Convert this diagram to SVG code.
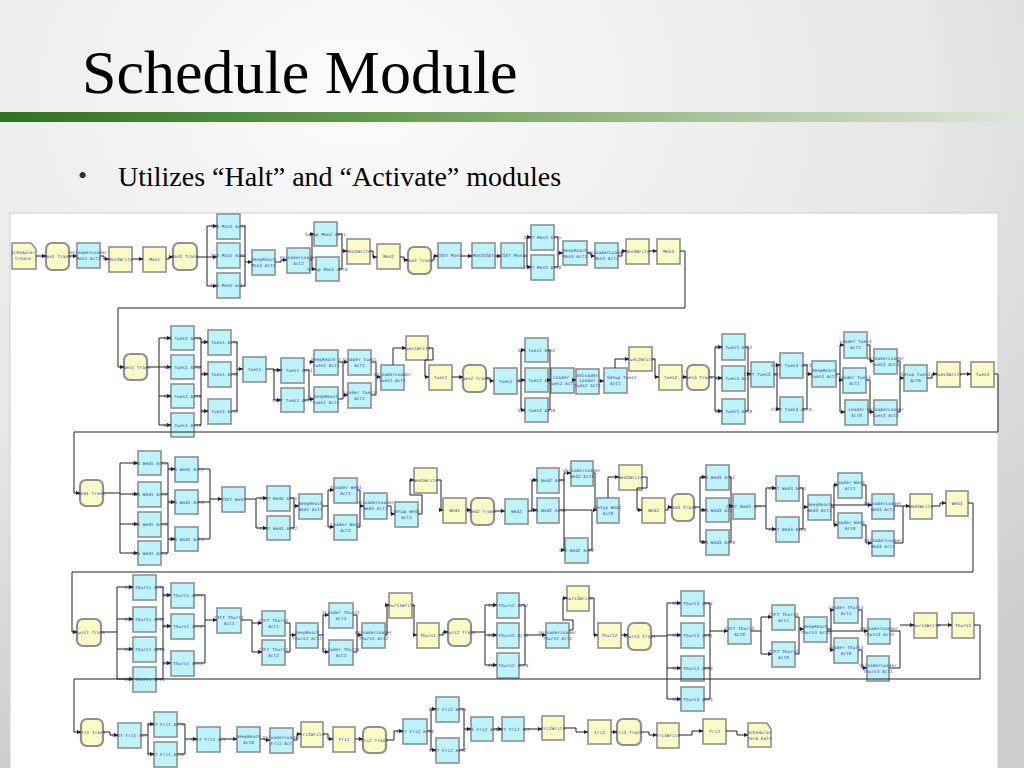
<svg xmlns="http://www.w3.org/2000/svg" width="1024" height="768" viewBox="0 0 1024 768">
<defs>
<radialGradient id="bg" cx="0.35" cy="0.12" r="0.95">
<stop offset="0" stop-color="#fbfbfb"/><stop offset="0.6" stop-color="#e6e6e6"/><stop offset="1" stop-color="#cdcdcd"/>
</radialGradient>
<linearGradient id="gb" x1="0" y1="0" x2="1" y2="0">
<stop offset="0" stop-color="#2c7420"/><stop offset="0.35" stop-color="#5f9a48"/><stop offset="0.7" stop-color="#a9c59a"/><stop offset="1" stop-color="#dfe6da"/>
</linearGradient>
<marker id="ar" markerUnits="userSpaceOnUse" markerWidth="4" markerHeight="4" refX="4" refY="2" orient="auto">
<path d="M0,0 L4,2 L0,4 z" fill="#222"/>
</marker>
</defs>
<style>
.c{fill:#bdf3fa;stroke:#8f8f8f;stroke-width:1.6}
.y{fill:#fbfbc6;stroke:#8f8f8f;stroke-width:1.6}
.t{fill:#fbfbc6;stroke:#909090;stroke-width:2.2}
text.l{font-family:"DejaVu Sans Mono",monospace;font-size:4.3px;fill:#3c3ca8;text-anchor:middle;letter-spacing:0.1px}
#connectors path{fill:none;stroke:#222;stroke-width:1}
#connectors path.a{marker-end:url(#ar)}
</style>
<rect width="1024" height="768" fill="url(#bg)"/>
<text x="82" y="93" font-family="Liberation Serif, serif" font-size="62" fill="#000">Schedule Module</text>
<rect x="0" y="112" width="1024" height="10" fill="url(#gb)"/>
<text x="78" y="184" font-family="Liberation Serif, serif" font-size="26" fill="#1e3a1e">•</text>
<text x="118" y="186" font-family="Liberation Serif, serif" font-size="28" fill="#000">Utilizes “Halt” and “Activate” modules</text>
<rect x="10" y="213" width="988" height="560" fill="#ffffff" stroke="#d0d0d0" stroke-width="1"/>

<g id="nodes">
<!-- Row 1 -->
<g id="sc"><polygon class="y" points="12,243 31,243 36,249 36,269 12,269"/><text class="l" x="23" y="254">Scheduler<tspan x="23" dy="6">Create</tspan></text></g>
<g id="mon1tr"><rect class="t" x="46" y="243" width="23" height="27" rx="6"/><text class="l" x="57.5" y="258">Mon1 Trans</text></g>
<g id="m1ul"><rect class="c" x="77" y="243" width="23" height="25"/><text class="l" x="88.5" y="254">UnloaderLoader<tspan x="88.5" dy="6">Mon1 Act1</tspan></text></g>
<g id="m1w"><rect class="y" x="109" y="247" width="23" height="25"/><text class="l" x="120.5" y="261">Mon1Write</text></g>
<g id="m1y"><rect class="y" x="143" y="247" width="23" height="25"/><text class="l" x="154.5" y="261">Mon1</text></g>
<g id="m2tr"><rect class="t" x="173" y="243" width="24" height="27" rx="6"/><text class="l" x="185" y="258">Mon2 Trans</text></g>
<g id="m2a"><rect class="c" x="217" y="214" width="23" height="25"/><text class="l" x="228.5" y="228">SSS Mon2 Act2</text></g>
<g id="m2b"><rect class="c" x="217" y="243" width="23" height="25"/><text class="l" x="228.5" y="257">SSS Mon2 Act2</text></g>
<g id="m2c"><rect class="c" x="217" y="273" width="23" height="25"/><text class="l" x="228.5" y="287">SSS Mon2 Act1</text></g>
<g id="m2dr"><rect class="c" x="252" y="250" width="23" height="25"/><text class="l" x="263.5" y="261">DeepReach<tspan x="263.5" dy="6">Mon2 Act1</tspan></text></g>
<g id="m2ul"><rect class="c" x="287" y="248" width="23" height="25"/><text class="l" x="298.5" y="259">UnloaderLoader<tspan x="298.5" dy="6">Act2</tspan></text></g>
<g id="m2s1"><rect class="c" x="314" y="222" width="23" height="24"/><text class="l" x="325.5" y="236">Setup Mon2 Act1</text></g>
<g id="m2s2"><rect class="c" x="316" y="257" width="23" height="24"/><text class="l" x="327.5" y="271">Setup Mon2 Act0</text></g>
<g id="m2w"><rect class="y" x="347" y="239" width="23" height="25"/><text class="l" x="358.5" y="253">Mon2Write</text></g>
<g id="m2y"><rect class="y" x="377" y="244" width="23" height="25"/><text class="l" x="388.5" y="258">Mon2</text></g>
<g id="m3tr"><rect class="t" x="408" y="247" width="23" height="27" rx="6"/><text class="l" x="419.5" y="262">Mon3 Trans</text></g>
<g id="m3a"><rect class="c" x="438" y="243" width="23" height="25"/><text class="l" x="449.5" y="257">CSET Mon3</text></g>
<g id="m3c"><rect class="c" x="472" y="243" width="23" height="25"/><text class="l" x="483.5" y="257">Mon3CSET</text></g>
<g id="m3d"><rect class="c" x="501" y="243" width="23" height="25"/><text class="l" x="512.5" y="257">CSET Mon3</text></g>
<g id="m3e"><rect class="c" x="531" y="225" width="23" height="25"/><text class="l" x="542.5" y="239">CSET Mon3 Act1</text></g>
<g id="m3f"><rect class="c" x="531" y="255" width="23" height="25"/><text class="l" x="542.5" y="269">CSET Mon3 Act0</text></g>
<g id="m3dr"><rect class="c" x="563" y="241" width="24" height="24"/><text class="l" x="575" y="252">DeepReach<tspan x="575" dy="6">Mon3 Act1</tspan></text></g>
<g id="m3ul"><rect class="c" x="595" y="243" width="23" height="25"/><text class="l" x="606.5" y="254">UnloaderLoader<tspan x="606.5" dy="6">Mon3 Act1</tspan></text></g>
<g id="m3w"><rect class="y" x="626" y="239" width="23" height="25"/><text class="l" x="637.5" y="253">Mon3Write</text></g>
<g id="m3y"><rect class="y" x="657" y="239" width="23" height="25"/><text class="l" x="668.5" y="253">Mon3</text></g>

<!-- Row 2 -->
<g id="t1tr"><rect class="t" x="124" y="354" width="23" height="26" rx="6"/><text class="l" x="135.5" y="369">Tues1 Trans</text></g>
<g id="t1a1"><rect class="c" x="171" y="326" width="23" height="24"/><text class="l" x="182.5" y="340">SSS Tues1 Act1</text></g>
<g id="t1a2"><rect class="c" x="171" y="355" width="23" height="24"/><text class="l" x="182.5" y="369">SSS Tues1 Act2</text></g>
<g id="t1a3"><rect class="c" x="171" y="384" width="23" height="24"/><text class="l" x="182.5" y="398">SSS Tues1 Act3</text></g>
<g id="t1a4"><rect class="c" x="171" y="413" width="23" height="24"/><text class="l" x="182.5" y="427">SSS Tues1 Act4</text></g>
<g id="t1b1"><rect class="c" x="208" y="330" width="23" height="25"/><text class="l" x="219.5" y="344">SSS Tues1 Act1</text></g>
<g id="t1b2"><rect class="c" x="208" y="362" width="23" height="25"/><text class="l" x="219.5" y="376">SSS Tues1 Act2</text></g>
<g id="t1b3"><rect class="c" x="208" y="399" width="23" height="25"/><text class="l" x="219.5" y="413">SSS Tues1 Act3</text></g>
<g id="t1c"><rect class="c" x="243" y="357" width="23" height="25"/><text class="l" x="254.5" y="371">Tues1</text></g>
<g id="t1d"><rect class="c" x="281" y="358" width="23" height="25"/><text class="l" x="292.5" y="372">CSET Tues1 Act1</text></g>
<g id="t1e"><rect class="c" x="281" y="388" width="23" height="24"/><text class="l" x="292.5" y="402">CSET Tues1 Act2</text></g>
<g id="t1dr1"><rect class="c" x="314" y="350" width="24" height="25"/><text class="l" x="326" y="361">DeepReach 2<tspan x="326" dy="6">Tues1 Act1</tspan></text></g>
<g id="t1dr2"><rect class="c" x="314" y="387" width="24" height="25"/><text class="l" x="326" y="398">DeepReach<tspan x="326" dy="6">Tues1 Act1</tspan></text></g>
<g id="t1l1"><rect class="c" x="348" y="350" width="23" height="25"/><text class="l" x="359.5" y="361">2Loader Tues1<tspan x="359.5" dy="6">Act1</tspan></text></g>
<g id="t1l2"><rect class="c" x="348" y="383" width="23" height="25"/><text class="l" x="359.5" y="394">Loader Tues1<tspan x="359.5" dy="6">Act2</tspan></text></g>
<g id="t1ul"><rect class="c" x="381" y="365" width="23" height="25"/><text class="l" x="392.5" y="376">UnloaderLoader<tspan x="392.5" dy="6">Tues1 Act1</tspan></text></g>
<g id="t1w"><rect class="y" x="406" y="336" width="22" height="24"/><text class="l" x="417" y="350">Tues1Write</text></g>
<g id="t1y"><rect class="y" x="429" y="365" width="23" height="25"/><text class="l" x="440.5" y="379">Tues1</text></g>
<g id="t2tr"><rect class="t" x="463" y="365" width="23" height="27" rx="6"/><text class="l" x="474.5" y="380">Tues2 Trans</text></g>
<g id="t2c"><rect class="c" x="494" y="368" width="23" height="26"/><text class="l" x="505.5" y="383">Tues2</text></g>
<g id="t2a"><rect class="c" x="525" y="338" width="23" height="24"/><text class="l" x="536.5" y="352">SSS Tues2 Act2</text></g>
<g id="t2b"><rect class="c" x="525" y="368" width="23" height="24"/><text class="l" x="536.5" y="382">SSS Tues2 Act1</text></g>
<g id="t2d"><rect class="c" x="525" y="398" width="23" height="24"/><text class="l" x="536.5" y="412">SSS Tues2 Act0</text></g>
<g id="t2l"><rect class="c" x="551" y="368" width="23" height="25"/><text class="l" x="561" y="379">Loader<tspan x="561" dy="6">Tues2 Act</tspan></text></g>
<g id="t2ul"><rect class="c" x="576" y="369" width="23" height="25"/><text class="l" x="587.5" y="377">Unloader<tspan x="587.5" dy="5">Loader</tspan><tspan x="587.5" dy="5">Tues2 Act1</tspan></text></g>
<g id="t2s"><rect class="c" x="604" y="368" width="23" height="25"/><text class="l" x="607" y="379" style="text-anchor:start">Setup Tues2<tspan x="610" dy="6">Act1</tspan></text></g>
<g id="t2w"><rect class="y" x="629" y="347" width="23" height="24"/><text class="l" x="640.5" y="361">Tues2Write</text></g>
<g id="t2y"><rect class="y" x="659" y="365" width="23" height="25"/><text class="l" x="670.5" y="379">Tues2</text></g>
<g id="t3tr"><rect class="t" x="687" y="365" width="22" height="25" rx="6"/><text class="l" x="698" y="379">Tues3 Trans</text></g>
<g id="t3a"><rect class="c" x="722" y="334" width="23" height="26"/><text class="l" x="733.5" y="349">SSS Tues3 Act2</text></g>
<g id="t3b"><rect class="c" x="722" y="366" width="23" height="25"/><text class="l" x="733.5" y="380">SSS Tues3 Act1</text></g>
<g id="t3d"><rect class="c" x="722" y="399" width="23" height="25"/><text class="l" x="733.5" y="413">SSS Tues3 Act0</text></g>
<g id="t3cs"><rect class="c" x="751" y="362" width="23" height="25"/><text class="l" x="762.5" y="376">CSET Tues3 Act</text></g>
<g id="t3e"><rect class="c" x="780" y="353" width="23" height="25"/><text class="l" x="791.5" y="367">CSET Tues3 Act1</text></g>
<g id="t3f"><rect class="c" x="780" y="397" width="23" height="25"/><text class="l" x="791.5" y="411">CSET Tues3 Act0</text></g>
<g id="t3dr"><rect class="c" x="812" y="361" width="24" height="26"/><text class="l" x="824" y="372">DeepReach<tspan x="824" dy="6">Tues3 Act1</tspan></text></g>
<g id="t3l2"><rect class="c" x="844" y="332" width="23" height="26"/><text class="l" x="855.5" y="343">Loader Tues3<tspan x="855.5" dy="6">Act2</tspan></text></g>
<g id="t3l1"><rect class="c" x="843" y="368" width="23" height="25"/><text class="l" x="854.5" y="379">Loader Tues3<tspan x="854.5" dy="6">Act1</tspan></text></g>
<g id="t3l0"><rect class="c" x="845" y="400" width="23" height="25"/><text class="l" x="856.5" y="411">Loader<tspan x="856.5" dy="6">Act0</tspan></text></g>
<g id="t3u3"><rect class="c" x="874" y="349" width="23" height="25"/><text class="l" x="885.5" y="360">UnloaderLoader<tspan x="885.5" dy="6">Tues3 Act3</tspan></text></g>
<g id="t3u1"><rect class="c" x="874" y="400" width="23" height="25"/><text class="l" x="885.5" y="411">UnloaderLoader<tspan x="885.5" dy="6">Tues3 Act1</tspan></text></g>
<g id="t3s"><rect class="c" x="904" y="365" width="23" height="26"/><text class="l" x="915.5" y="376">Setup Tues3<tspan x="915.5" dy="6">Act0</tspan></text></g>
<g id="t3w"><rect class="y" x="937" y="362" width="23" height="25"/><text class="l" x="948.5" y="376">Tues3Write</text></g>
<g id="t3y"><rect class="y" x="971" y="362" width="23" height="25"/><text class="l" x="982.5" y="376">Tues3</text></g>

<!-- Row 3 -->
<g id="w1tr"><rect class="t" x="80" y="480" width="23" height="26" rx="6"/><text class="l" x="91.5" y="495">Wed1 Trans</text></g>
<g id="w1a1"><rect class="c" x="138" y="451" width="23" height="24"/><text class="l" x="149.5" y="465">SSS Wed1 Act1</text></g>
<g id="w1a2"><rect class="c" x="138" y="482" width="23" height="25"/><text class="l" x="149.5" y="496">SSS Wed1 Act2</text></g>
<g id="w1a3"><rect class="c" x="138" y="512" width="23" height="25"/><text class="l" x="149.5" y="526">SSS Wed1 Act3</text></g>
<g id="w1a4"><rect class="c" x="138" y="541" width="23" height="24"/><text class="l" x="149.5" y="555">SSS Wed1 Act4</text></g>
<g id="w1b1"><rect class="c" x="175" y="457" width="23" height="25"/><text class="l" x="186.5" y="471">SSS Wed1 Act1</text></g>
<g id="w1b2"><rect class="c" x="175" y="490" width="23" height="24"/><text class="l" x="186.5" y="504">SSS Wed1 Act2</text></g>
<g id="w1b3"><rect class="c" x="175" y="527" width="23" height="24"/><text class="l" x="186.5" y="541">SSS Wed1 Act3</text></g>
<g id="w1c"><rect class="c" x="222" y="487" width="23" height="25"/><text class="l" x="233.5" y="501">CSET Wed1</text></g>
<g id="w1d"><rect class="c" x="267" y="486" width="23" height="25"/><text class="l" x="278.5" y="500">CSET Wed1 Act1</text></g>
<g id="w1e"><rect class="c" x="267" y="516" width="23" height="24"/><text class="l" x="278.5" y="530">CSET Wed1 Act2</text></g>
<g id="w1dr"><rect class="c" x="299" y="494" width="23" height="25"/><text class="l" x="310.5" y="505">DeepReach<tspan x="310.5" dy="6">Wed1 Act1</tspan></text></g>
<g id="w1l1"><rect class="c" x="334" y="478" width="23" height="25"/><text class="l" x="345.5" y="489">2Loader Wed1<tspan x="345.5" dy="6">Act1</tspan></text></g>
<g id="w1l2"><rect class="c" x="334" y="515" width="23" height="25"/><text class="l" x="345.5" y="526">Loader Wed1<tspan x="345.5" dy="6">Act2</tspan></text></g>
<g id="w1ul"><rect class="c" x="364" y="493" width="23" height="26"/><text class="l" x="375.5" y="504">UnloaderLoader<tspan x="375.5" dy="6">Wed1 Act1</tspan></text></g>
<g id="w1s"><rect class="c" x="395" y="502" width="23" height="25"/><text class="l" x="406.5" y="513">Setup Wed1<tspan x="406.5" dy="6">Act1</tspan></text></g>
<g id="w1w"><rect class="y" x="414" y="468" width="23" height="25"/><text class="l" x="425.5" y="482">Wed1Write</text></g>
<g id="w1y"><rect class="y" x="443" y="498" width="23" height="25"/><text class="l" x="454.5" y="512">Wed1</text></g>
<g id="w2tr"><rect class="t" x="471" y="498" width="23" height="27" rx="6"/><text class="l" x="482.5" y="513">Wed2 Trans</text></g>
<g id="w2c"><rect class="c" x="505" y="499" width="23" height="25"/><text class="l" x="516.5" y="513">Wed2</text></g>
<g id="w2a"><rect class="c" x="537" y="468" width="22" height="25"/><text class="l" x="548" y="482">SSS Wed2 Act1</text></g>
<g id="w2b"><rect class="c" x="537" y="498" width="22" height="25"/><text class="l" x="548" y="512">SSS Wed2 Act0</text></g>
<g id="w2ul"><rect class="c" x="571" y="461" width="22" height="25"/><text class="l" x="582" y="472">UnloaderLoader<tspan x="582" dy="6">Wed2 Act0</tspan></text></g>
<g id="w2x"><rect class="c" x="565" y="538" width="23" height="25"/><text class="l" x="576.5" y="552">SSS Wed2 Act0</text></g>
<g id="w2s"><rect class="c" x="597" y="498" width="22" height="25"/><text class="l" x="608" y="509">Setup Wed2<tspan x="608" dy="6">Act0</tspan></text></g>
<g id="w2w"><rect class="y" x="619" y="465" width="23" height="25"/><text class="l" x="630.5" y="479">Wed2Write</text></g>
<g id="w2y"><rect class="y" x="642" y="498" width="23" height="25"/><text class="l" x="653.5" y="512">Wed2</text></g>
<g id="w3tr"><rect class="t" x="672" y="494" width="22" height="27" rx="6"/><text class="l" x="683" y="509">Wed3 Trans</text></g>
<g id="w3a"><rect class="c" x="706" y="465" width="23" height="25"/><text class="l" x="717.5" y="479">SSS Wed3 Act2</text></g>
<g id="w3b"><rect class="c" x="706" y="498" width="23" height="24"/><text class="l" x="717.5" y="512">SSS Wed3 Act1</text></g>
<g id="w3d"><rect class="c" x="706" y="530" width="23" height="25"/><text class="l" x="717.5" y="544">SSS Wed3 Act0</text></g>
<g id="w3cs"><rect class="c" x="733" y="494" width="22" height="25"/><text class="l" x="744" y="508">CSET Wed3 Act</text></g>
<g id="w3e"><rect class="c" x="776" y="476" width="23" height="25"/><text class="l" x="787.5" y="490">CSET Wed3 Act1</text></g>
<g id="w3f"><rect class="c" x="776" y="517" width="23" height="25"/><text class="l" x="787.5" y="531">CSET Wed3 Act0</text></g>
<g id="w3dr"><rect class="c" x="808" y="495" width="23" height="25"/><text class="l" x="819.5" y="506">DeepReach<tspan x="819.5" dy="6">Wed3 Act1</tspan></text></g>
<g id="w3l1"><rect class="c" x="838" y="473" width="24" height="25"/><text class="l" x="850" y="484">Loader Wed3<tspan x="850" dy="6">Act1</tspan></text></g>
<g id="w3l0"><rect class="c" x="838" y="513" width="24" height="25"/><text class="l" x="850" y="524">Loader Wed3<tspan x="850" dy="6">Act0</tspan></text></g>
<g id="w3u2"><rect class="c" x="872" y="494" width="22" height="25"/><text class="l" x="883" y="505">UnloaderLoader<tspan x="883" dy="6">Wed3 Act2</tspan></text></g>
<g id="w3u1"><rect class="c" x="872" y="531" width="22" height="25"/><text class="l" x="883" y="542">UnloaderLoader<tspan x="883" dy="6">Wed3 Act1</tspan></text></g>
<g id="w3w"><rect class="y" x="910" y="494" width="22" height="25"/><text class="l" x="921" y="508">Wed3Write</text></g>
<g id="w3y"><rect class="y" x="946" y="491" width="22" height="25"/><text class="l" x="957" y="505">Wed3</text></g>

<!-- Row 4 -->
<g id="h1tr"><rect class="t" x="77" y="619" width="24" height="27" rx="6"/><text class="l" x="89" y="634">Thurs1 Trans</text></g>
<g id="h1a1"><rect class="c" x="133" y="575" width="23" height="25"/><text class="l" x="144.5" y="589">SSS Thurs1 Act1</text></g>
<g id="h1a2"><rect class="c" x="133" y="607" width="23" height="25"/><text class="l" x="144.5" y="621">SSS Thurs1 Act2</text></g>
<g id="h1a3"><rect class="c" x="133" y="637" width="23" height="25"/><text class="l" x="144.5" y="651">SSS Thurs1 Act3</text></g>
<g id="h1a4"><rect class="c" x="133" y="667" width="23" height="25"/><text class="l" x="144.5" y="681">SSS Thurs1 Act4</text></g>
<g id="h1b1"><rect class="c" x="171" y="583" width="23" height="25"/><text class="l" x="182.5" y="597">SSS Thurs1 Act1</text></g>
<g id="h1b2"><rect class="c" x="171" y="614" width="23" height="25"/><text class="l" x="182.5" y="628">SSS Thurs1 Act2</text></g>
<g id="h1b3"><rect class="c" x="171" y="651" width="23" height="25"/><text class="l" x="182.5" y="665">SSS Thurs1 Act3</text></g>
<g id="h1c"><rect class="c" x="217" y="608" width="24" height="25"/><text class="l" x="229" y="619">CIFT Thurs1<tspan x="229" dy="6">Act1</tspan></text></g>
<g id="h1d"><rect class="c" x="262" y="611" width="23" height="25"/><text class="l" x="273.5" y="622">CIFT Thurs1<tspan x="273.5" dy="6">Act1</tspan></text></g>
<g id="h1e"><rect class="c" x="262" y="640" width="23" height="25"/><text class="l" x="273.5" y="651">CIFT Thurs1<tspan x="273.5" dy="6">Act2</tspan></text></g>
<g id="h1dr"><rect class="c" x="296" y="623" width="22" height="25"/><text class="l" x="307" y="634">DeepReach<tspan x="307" dy="6">Thurs1 Act2</tspan></text></g>
<g id="h1l1"><rect class="c" x="329" y="603" width="24" height="25"/><text class="l" x="341" y="614">2Loader Thurs1<tspan x="341" dy="6">Act1</tspan></text></g>
<g id="h1l2"><rect class="c" x="329" y="640" width="24" height="25"/><text class="l" x="341" y="651">2Loader Thurs1<tspan x="341" dy="6">Act2</tspan></text></g>
<g id="h1ul"><rect class="c" x="362" y="623" width="23" height="25"/><text class="l" x="373.5" y="634">UnloaderLoader<tspan x="373.5" dy="6">Thurs1 Act2</tspan></text></g>
<g id="h1w"><rect class="y" x="389" y="593" width="23" height="25"/><text class="l" x="400.5" y="607">Thurs1Write</text></g>
<g id="h1y"><rect class="y" x="417" y="623" width="22" height="25"/><text class="l" x="428" y="637">Thurs1</text></g>
<g id="h2tr"><rect class="t" x="448" y="619" width="23" height="27" rx="6"/><text class="l" x="459.5" y="634">Thurs2 Trans</text></g>
<g id="h2a1"><rect class="c" x="497" y="593" width="22" height="25"/><text class="l" x="508" y="607">SSS Thurs2 Act2</text></g>
<g id="h2a2"><rect class="c" x="497" y="623" width="22" height="25"/><text class="l" x="508" y="637">SSS Thurs2 Act1</text></g>
<g id="h2a3"><rect class="c" x="497" y="653" width="22" height="25"/><text class="l" x="508" y="667">SSS Thurs2 Act0</text></g>
<g id="h2ul"><rect class="c" x="546" y="623" width="23" height="25"/><text class="l" x="557.5" y="634">UnloaderLoader<tspan x="557.5" dy="6">Thurs2 Act1</tspan></text></g>
<g id="h2w"><rect class="y" x="567" y="586" width="22" height="25"/><text class="l" x="578" y="600">Thurs2Write</text></g>
<g id="h2y"><rect class="y" x="598" y="623" width="23" height="25"/><text class="l" x="609.5" y="637">Thurs2</text></g>
<g id="h3tr"><rect class="t" x="628" y="623" width="23" height="27" rx="6"/><text class="l" x="639.5" y="638">Thurs3 Trans</text></g>
<g id="h3a1"><rect class="c" x="681" y="591" width="23" height="25"/><text class="l" x="692.5" y="605">SSS Thurs3 Act2</text></g>
<g id="h3a2"><rect class="c" x="681" y="623" width="23" height="25"/><text class="l" x="692.5" y="637">SSS Thurs3 Act1</text></g>
<g id="h3a3"><rect class="c" x="681" y="656" width="23" height="25"/><text class="l" x="692.5" y="670">SSS Thurs3 Act0</text></g>
<g id="h3a4"><rect class="c" x="681" y="687" width="23" height="24"/><text class="l" x="692.5" y="701">SSS Thurs3 Act3</text></g>
<g id="h3c"><rect class="c" x="728" y="619" width="23" height="25"/><text class="l" x="739.5" y="630">CIFT Thurs3<tspan x="739.5" dy="6">Act0</tspan></text></g>
<g id="h3d"><rect class="c" x="772" y="605" width="23" height="25"/><text class="l" x="783.5" y="616">CIFT Thurs3<tspan x="783.5" dy="6">Act1</tspan></text></g>
<g id="h3e"><rect class="c" x="772" y="642" width="23" height="25"/><text class="l" x="783.5" y="653">CIFT Thurs3<tspan x="783.5" dy="6">Act0</tspan></text></g>
<g id="h3dr"><rect class="c" x="804" y="617" width="23" height="25"/><text class="l" x="815.5" y="628">DeepReach<tspan x="815.5" dy="6">Thurs3 Act1</tspan></text></g>
<g id="h3l1"><rect class="c" x="834" y="598" width="24" height="25"/><text class="l" x="846" y="609">Loader Thurs3<tspan x="846" dy="6">Act1</tspan></text></g>
<g id="h3l0"><rect class="c" x="834" y="638" width="24" height="25"/><text class="l" x="846" y="649">Loader Thurs3<tspan x="846" dy="6">Act0</tspan></text></g>
<g id="h3u2"><rect class="c" x="868" y="619" width="22" height="25"/><text class="l" x="879" y="630">UnloaderLoader<tspan x="879" dy="6">Thurs3 Act2</tspan></text></g>
<g id="h3u1"><rect class="c" x="867" y="656" width="22" height="25"/><text class="l" x="878" y="667">UnloaderLoader<tspan x="878" dy="6">Thurs3 Act1</tspan></text></g>
<g id="h3w"><rect class="y" x="914" y="613" width="23" height="25"/><text class="l" x="925.5" y="627">Thurs3Write</text></g>
<g id="h3y"><rect class="y" x="952" y="613" width="22" height="25"/><text class="l" x="963" y="627">Thurs3</text></g>

<!-- Row 5 -->
<g id="f1tr"><rect class="t" x="81" y="719" width="22" height="27" rx="6"/><text class="l" x="92" y="734">Fri1 Trans</text></g>
<g id="f1a"><rect class="c" x="118" y="723" width="23" height="25"/><text class="l" x="129.5" y="737">CSET Fri1 Act</text></g>
<g id="f1b"><rect class="c" x="154" y="712" width="23" height="25"/><text class="l" x="165.5" y="726">CSET Fri1 Act1</text></g>
<g id="f1c"><rect class="c" x="154" y="742" width="23" height="25"/><text class="l" x="165.5" y="756">CSET Fri1 Act2</text></g>
<g id="f1d"><rect class="c" x="197" y="727" width="23" height="25"/><text class="l" x="208.5" y="741">CSET Fri1 Act</text></g>
<g id="f1dr"><rect class="c" x="237" y="727" width="23" height="25"/><text class="l" x="248.5" y="738">DeepReach<tspan x="248.5" dy="6">Act0</tspan></text></g>
<g id="f1ul"><rect class="c" x="270" y="728" width="23" height="25"/><text class="l" x="281.5" y="739">UnloaderLoader<tspan x="281.5" dy="6">Fri1 Act</tspan></text></g>
<g id="f1w"><rect class="y" x="301" y="722" width="22" height="25"/><text class="l" x="312" y="736">Fri1Write</text></g>
<g id="f1y"><rect class="y" x="333" y="727" width="22" height="25"/><text class="l" x="344" y="741">Fri1</text></g>
<g id="f2tr"><rect class="t" x="363" y="727" width="23" height="26" rx="6"/><text class="l" x="374.5" y="742">Fri2 Trans</text></g>
<g id="f2a"><rect class="c" x="403" y="719" width="24" height="25"/><text class="l" x="415" y="733">CSET Fri2 Act0</text></g>
<g id="f2b"><rect class="c" x="436" y="697" width="23" height="25"/><text class="l" x="447.5" y="711">CSET Fri2 Act1</text></g>
<g id="f2c"><rect class="c" x="436" y="738" width="23" height="25"/><text class="l" x="447.5" y="752">CSET Fri2 Act2</text></g>
<g id="f2d"><rect class="c" x="471" y="717" width="22" height="24"/><text class="l" x="482" y="731">SSS Fri2 Act</text></g>
<g id="f2e"><rect class="c" x="502" y="717" width="22" height="24"/><text class="l" x="513" y="731">CSET Fri2 Act</text></g>
<g id="f2w"><rect class="y" x="542" y="716" width="22" height="24"/><text class="l" x="553" y="730">Fri2Write</text></g>
<g id="f2y"><rect class="y" x="588" y="720" width="23" height="24"/><text class="l" x="599.5" y="734">Fri2</text></g>
<g id="f3tr"><rect class="t" x="617" y="719" width="24" height="26" rx="6"/><text class="l" x="629" y="734">Fri3 Trans</text></g>
<g id="f3w"><rect class="y" x="657" y="723" width="22" height="25"/><text class="l" x="668" y="737">Fri3Write</text></g>
<g id="f3y"><rect class="y" x="703" y="719" width="23" height="25"/><text class="l" x="714.5" y="733">Fri3</text></g>
<g id="term"><polygon class="y" points="748,723 767,723 771,729 771,747 748,747"/><text class="l" x="759.5" y="734">Scheduler<tspan x="759.5" dy="6">Term Halt</tspan></text></g>
</g>

<g id="connectors">
<path class="a" d="M36 256H46"/>
<path class="a" d="M69 256H77"/>
<path class="a" d="M100 256H104V259H109"/>
<path class="a" d="M132 259H143"/>
<path class="a" d="M166 259H169V257H173"/>
<path class="a" d="M197 257H207V226H217"/>
<path class="a" d="M207 257H217"/>
<path class="a" d="M207 257V286H217"/>
<path d="M240 226H245V286H240"/>
<path d="M240 256H245"/>
<path class="a" d="M245 262H252"/>
<path class="a" d="M275 262H281V260H287"/>
<path class="a" d="M310 260H312V234H314"/>
<path class="a" d="M312 260V269H316"/>
<path d="M337 234H342V269H339"/>
<path class="a" d="M342 251H347"/>
<path class="a" d="M370 251H373V257H377"/>
<path class="a" d="M400 257H404V260H408"/>
<path class="a" d="M431 260H434V256H438"/>
<path class="a" d="M461 256H472"/>
<path class="a" d="M495 256H501"/>
<path class="a" d="M524 256H527V237H531"/>
<path class="a" d="M527 256V267H531"/>
<path d="M554 237H558V267H554"/>
<path class="a" d="M558 253H563"/>
<path class="a" d="M587 253H591V256H595"/>
<path class="a" d="M618 256H622V251H626"/>
<path class="a" d="M649 251H657"/>
<path class="a" d="M680 251H685V308H118V367H124"/>

<path class="a" d="M147 367H159V338H171"/>
<path class="a" d="M159 367H171"/>
<path class="a" d="M159 367V425H171"/>
<path class="a" d="M159 396H171"/>
<path d="M194 338H201V425H194"/>
<path d="M194 367H201"/>
<path d="M194 396H201"/>
<path class="a" d="M201 342H208"/>
<path class="a" d="M201 374H208"/>
<path class="a" d="M201 411H208"/>
<path d="M231 342H237V411H231"/>
<path d="M231 374H237"/>
<path class="a" d="M237 369H243"/>
<path class="a" d="M266 369H274V400H281"/>
<path class="a" d="M274 370H281"/>
<path d="M304 370H309V400H304"/>
<path class="a" d="M309 362H314"/>
<path class="a" d="M309 399H314"/>
<path d="M338 362H343V399H338"/>
<path class="a" d="M343 362H348"/>
<path class="a" d="M343 395H348"/>
<path d="M371 362H376V395H371"/>
<path class="a" d="M376 377H381"/>
<path class="a" d="M393 365V348H406"/>
<path class="a" d="M428 348H433V360H425V377H429"/>
<path class="a" d="M452 377H463"/>
<path class="a" d="M486 378H490V381H494"/>
<path class="a" d="M517 381H521V350H525"/>
<path class="a" d="M521 380H525"/>
<path class="a" d="M521 381V410H525"/>
<path d="M548 350H550V410H548"/>
<path class="a" d="M548 380H551"/>
<path class="a" d="M574 380H576"/>
<path class="a" d="M599 381H604"/>
<path class="a" d="M615 368V359H629"/>
<path class="a" d="M652 359H655V377H659"/>
<path class="a" d="M682 377H687"/>
<path class="a" d="M709 377H715V347H722"/>
<path class="a" d="M715 378H722"/>
<path class="a" d="M715 378V411H722"/>
<path d="M745 347H748V411H745"/>
<path class="a" d="M748 374H751"/>
<path class="a" d="M774 374H777V365H780"/>
<path class="a" d="M777 374V409H780"/>
<path d="M803 365H807V409H803"/>
<path class="a" d="M807 374H812"/>
<path class="a" d="M836 374H840V345H844"/>
<path class="a" d="M840 380H843"/>
<path class="a" d="M840 374V412H845"/>
<path class="a" d="M867 345H870V361H874"/>
<path class="a" d="M866 380H870V412H874"/>
<path d="M868 412H870"/>
<path d="M897 361H900V412H897"/>
<path class="a" d="M900 378H904"/>
<path class="a" d="M927 378H932V374H937"/>
<path class="a" d="M960 374H971"/>
<path class="a" d="M994 374H998V432H74V493H80"/>

<path class="a" d="M103 493H120V463H138"/>
<path class="a" d="M120 494H138"/>
<path class="a" d="M120 493V553H138"/>
<path class="a" d="M120 524H138"/>
<path d="M161 463H168V553H161"/>
<path d="M161 494H168"/>
<path d="M161 524H168"/>
<path class="a" d="M168 469H175"/>
<path class="a" d="M168 502H175"/>
<path class="a" d="M168 539H175"/>
<path d="M198 469H210V539H198"/>
<path d="M198 502H210"/>
<path class="a" d="M210 499H222"/>
<path class="a" d="M245 499H256V528H267"/>
<path class="a" d="M256 498H267"/>
<path d="M290 498H294V528H290"/>
<path class="a" d="M294 506H299"/>
<path class="a" d="M322 506H328V490H334"/>
<path class="a" d="M328 506V527H334"/>
<path d="M357 490H360V527H357"/>
<path class="a" d="M360 506H364"/>
<path class="a" d="M387 506H391V514H395"/>
<path class="a" d="M418 514H422V495H410V480H414"/>
<path class="a" d="M437 480H441V510H443"/>
<path class="a" d="M466 510H471"/>
<path class="a" d="M494 511H505"/>
<path class="a" d="M528 511H532V480H537"/>
<path class="a" d="M532 510H537"/>
<path class="a" d="M559 480H564V473H571"/>
<path d="M559 510H592V550H588"/>
<path class="a" d="M564 480V550H565"/>
<path class="a" d="M593 473H595V510H597"/>
<path class="a" d="M608 498V477H619"/>
<path class="a" d="M642 477H647V488H637V510H642"/>
<path class="a" d="M665 510H668V507H672"/>
<path class="a" d="M694 507H700V477H706"/>
<path class="a" d="M700 510H706"/>
<path class="a" d="M700 507V542H706"/>
<path d="M729 477H731V542H729"/>
<path class="a" d="M731 506H733"/>
<path class="a" d="M755 506H766V488H776"/>
<path class="a" d="M766 506V529H776"/>
<path d="M799 488H803V529H799"/>
<path class="a" d="M803 507H808"/>
<path class="a" d="M831 507H834V485H838"/>
<path class="a" d="M834 507V525H838"/>
<path class="a" d="M831 505H872"/>
<path d="M862 485H866V505"/>
<path class="a" d="M862 525H866V543H872"/>
<path d="M894 506H903V543H894"/>
<path class="a" d="M903 506H910"/>
<path class="a" d="M932 506H940V503H946"/>
<path class="a" d="M968 503H973V572H72V632H77"/>

<path class="a" d="M101 632H117V587H133"/>
<path class="a" d="M117 619H133"/>
<path class="a" d="M117 632V679H133"/>
<path class="a" d="M117 649H133"/>
<path d="M156 587H163V679H156"/>
<path d="M156 619H163"/>
<path d="M156 649H163"/>
<path class="a" d="M163 595H171"/>
<path class="a" d="M163 626H171"/>
<path class="a" d="M163 663H171"/>
<path d="M194 595H205V663H194"/>
<path d="M194 626H205"/>
<path class="a" d="M205 620H217"/>
<path class="a" d="M241 620H252V623H262"/>
<path class="a" d="M252 623V652H262"/>
<path d="M285 623H290V652H285"/>
<path class="a" d="M290 635H296"/>
<path class="a" d="M318 635H323V615H329"/>
<path class="a" d="M323 635V652H329"/>
<path d="M353 615H357V652H353"/>
<path class="a" d="M357 635H362"/>
<path class="a" d="M385 635H387V605H389"/>
<path class="a" d="M412 605H414V635H417"/>
<path class="a" d="M439 635H443V632H448"/>
<path class="a" d="M471 632H485V605H497"/>
<path class="a" d="M485 635H497"/>
<path class="a" d="M485 632V665H497"/>
<path d="M519 605H525V665H519"/>
<path class="a" d="M525 635H546"/>
<path class="a" d="M569 630H573V620H563V598H567"/>
<path class="a" d="M589 598H594V635H598"/>
<path class="a" d="M621 635H628"/>
<path class="a" d="M651 636H667V603H681"/>
<path class="a" d="M667 635H681"/>
<path class="a" d="M667 636V699H681"/>
<path class="a" d="M667 668H681"/>
<path d="M704 603H710V699H704"/>
<path d="M704 635H710"/>
<path d="M704 668H710"/>
<path class="a" d="M710 631H728"/>
<path class="a" d="M751 631H761V617H772"/>
<path class="a" d="M761 631V654H772"/>
<path d="M795 617H799V654H795"/>
<path class="a" d="M799 629H804"/>
<path class="a" d="M827 629H831V610H834"/>
<path class="a" d="M831 629V650H834"/>
<path class="a" d="M827 631H868"/>
<path d="M858 610H862V631"/>
<path class="a" d="M858 650H862V668H867"/>
<path d="M890 631H900V668H889"/>
<path class="a" d="M900 625H914"/>
<path class="a" d="M937 625H952"/>
<path class="a" d="M974 625H980V679H74V732H81"/>

<path class="a" d="M103 732H110V735H118"/>
<path class="a" d="M141 735H148V724H154"/>
<path class="a" d="M148 735V754H154"/>
<path d="M177 724H185V754H177"/>
<path class="a" d="M185 739H197"/>
<path class="a" d="M220 739H237"/>
<path class="a" d="M260 739H265V740H270"/>
<path class="a" d="M293 740H297V734H301"/>
<path class="a" d="M323 734H328V739H333"/>
<path class="a" d="M355 739H363"/>
<path class="a" d="M386 740H394V731H403"/>
<path class="a" d="M427 731H431V709H436"/>
<path class="a" d="M431 731V750H436"/>
<path d="M459 709H464V750H459"/>
<path class="a" d="M464 729H471"/>
<path class="a" d="M493 729H502"/>
<path class="a" d="M524 729H542"/>
<path class="a" d="M564 728H576V732H588"/>
<path class="a" d="M611 732H617"/>
<path class="a" d="M641 732H649V735H657"/>
<path class="a" d="M679 735H692V731H703"/>
<path class="a" d="M726 731H737V735H748"/>
</g>
</svg>
